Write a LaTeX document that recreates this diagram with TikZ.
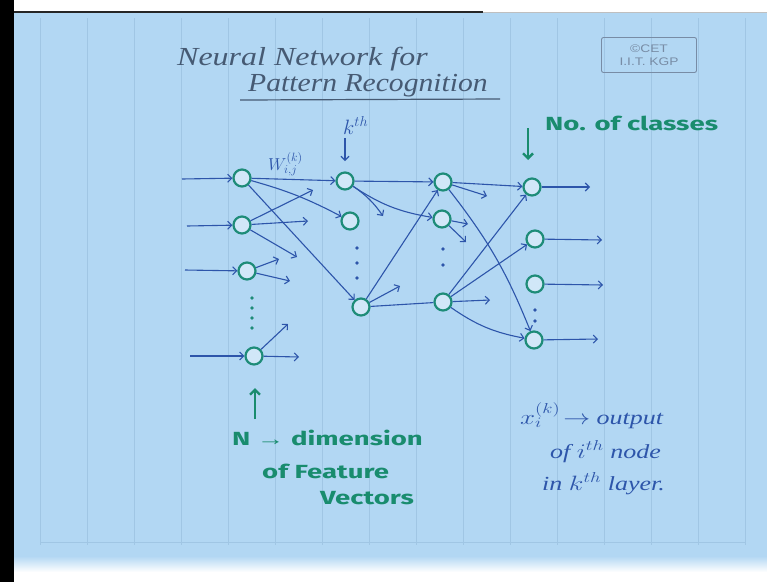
\documentclass[tikz,border=0pt]{standalone}
\usepackage{fontspec}
\setmainfont{Liberation Serif}
\newfontfamily\mk{Fira Sans}
\newfontfamily\lsans{Liberation Sans}
\usetikzlibrary{arrows.meta}
\definecolor{paper}{RGB}{178,215,243}
\definecolor{gridc}{RGB}{160,198,228}
\definecolor{ink}{RGB}{45,85,170}
\definecolor{titleink}{RGB}{70,90,115}
\definecolor{nodeink}{RGB}{30,140,120}
\definecolor{greenink}{RGB}{25,140,110}
\definecolor{stampc}{RGB}{120,140,165}
\newcommand{\hwb}[2]{\scalebox{#1}[1]{#2}}
\begin{document}
\begin{tikzpicture}[x=1pt,y=-1pt,
  neuron/.style={circle,draw=nodeink,line width=2.2pt,minimum size=17pt,inner sep=0pt,fill=paper!60!white},
  conn/.style={draw=ink,line width=1.1pt,-{Straight Barb[length=4pt,width=8pt]}},
  plainconn/.style={draw=ink,line width=1.1pt},
  gconn/.style={draw=greenink,line width=2.4pt,-{Straight Barb[length=5pt,width=10pt]}},
  dotmark/.style={circle,fill=#1,inner sep=0pt,minimum size=3.6pt},
  titletext/.style={text=titleink,font=\itshape\fontsize{26}{28}\selectfont,inner sep=0pt,anchor=base west},
  greentext/.style={text=greenink,font=\mk\bfseries\fontsize{19}{22}\selectfont,inner sep=0pt,anchor=base west},
  bluetext/.style={text=ink,font=\itshape\fontsize{20}{22}\selectfont,inner sep=0pt,anchor=base west},
  gridline/.style={draw=gridc,line width=0.7pt}
]
% ---------- paper and frame ----------
\useasboundingbox (0,0) rectangle (767,582);
\fill[white] (0,0) rectangle (767,582);
\fill[paper] (14,12) rectangle (767,558);
\shade[top color=paper, bottom color=white] (14,556) rectangle (767,572);
\fill[black] (0,0) rectangle (14,582);
\draw[black!85,line width=2pt] (14,12) -- (483,12);
\draw[gray!50,line width=1pt] (483,12) -- (767,12);
\foreach \gx in {40,87,...,745} \draw[gridline] (\gx,18) -- (\gx,545);
\draw[gridline] (40,542) -- (745,542);

% ---------- title ----------
\node[titletext] (t1) at (177,65) {\hwb{1.23}{Neural Network for}};
\node[titletext] (t2) at (248,91) {\hwb{1.14}{Pattern Recognition}};
\coordinate (u1) at (240,100);
\coordinate (u2) at (500,99);
\draw[titleink,line width=1.2pt] (u1) -- (u2);

\node[draw=stampc,rounded corners=2pt,line width=0.9pt,minimum width=95pt,minimum height=35pt,
      align=center,text=stampc,font=\lsans\fontsize{11}{13}\selectfont,inner sep=0pt] (stamp) at (649,55)
      {\hwb{1.25}{\textcopyright CET}\\\hwb{1.25}{I.I.T. KGP}};

% ---------- neurons ----------
\node[neuron] (i1) at (242,178) {};
\node[neuron] (i2) at (242,225) {};
\node[neuron] (i3) at (247,271) {};
\node[neuron] (i4) at (254,356) {};
\node[neuron] (h1) at (345,181) {};
\node[neuron] (h2) at (350,221) {};
\node[neuron] (h3) at (361,307) {};
\node[neuron] (g1) at (443,182) {};
\node[neuron] (g2) at (442,219) {};
\node[neuron] (g3) at (443,302) {};
\node[neuron] (o1) at (532,187) {};
\node[neuron] (o2) at (535,239) {};
\node[neuron] (o3) at (535,284) {};
\node[neuron] (o4) at (534,340) {};

% vertical dots
\node[dotmark=nodeink] (di1) at (252,298) {};
\node[dotmark=nodeink] (di2) at (252,308) {};
\node[dotmark=nodeink] (di3) at (252,318) {};
\node[dotmark=nodeink] (di4) at (252,328) {};
\node[dotmark=ink] (dh1) at (357,248) {};
\node[dotmark=ink] (dh2) at (357,263) {};
\node[dotmark=ink] (dh3) at (357,278) {};
\node[dotmark=ink] (dg1) at (443,249) {};
\node[dotmark=ink] (dg2) at (443,265) {};
\node[dotmark=ink] (do1) at (535,310) {};
\node[dotmark=ink] (do2) at (535,321) {};

% ---------- input arrows ----------
\coordinate (a1) at (182,179);
\coordinate (a2) at (187,226);
\coordinate (a3) at (185,270);
\coordinate (a4) at (190,356);
\draw[conn] (a1) -- (i1);
\draw[conn] (a2) -- (i2);
\draw[conn] (a3) -- (i3);
\draw[conn] (a4) -- (i4);

% ---------- input layer -> k-th layer ----------
\draw[conn] (i1) -- (h1);
\draw[conn] (i1) to[bend left=6] (h2);
\draw[conn] (i1) -- (h3);
\coordinate (s21) at (313,190);
\coordinate (s22) at (308,221);
\coordinate (s23) at (297,257);
\draw[conn] (i2) -- (s21);
\draw[conn] (i2) -- (s22);
\draw[conn] (i2) -- (s23);
\coordinate (s31) at (279,259);
\coordinate (s32) at (290,281);
\draw[conn] (i3) -- (s31);
\draw[conn] (i3) -- (s32);
\coordinate (s41) at (288,324);
\coordinate (s42) at (299,357);
\draw[conn] (i4) -- (s41);
\draw[conn] (i4) -- (s42);

% ---------- k-th layer -> next layer ----------
\draw[conn] (h1) -- (g1);
\draw[conn] (h1) to[bend right=12] (g2);
\coordinate (sh1) at (383,216);
\draw[conn] (h1) to[bend left=10] (sh1);
\draw[conn] (h3) -- (g1);
\coordinate (sh3) at (400,286);
\draw[conn] (h3) -- (sh3);
\draw[plainconn] (h3) -- (g3);

% ---------- next layer -> output ----------
\draw[conn] (g1) -- (o1);
\coordinate (sg1) at (487,196);
\draw[conn] (g1) -- (sg1);
\draw[conn] (g1) to[bend left=8] (o4);
\coordinate (sg21) at (468,224);
\coordinate (sg22) at (466,242);
\draw[conn] (g2) -- (sg21);
\draw[conn] (g2) -- (sg22);
\draw[conn] (g3) -- (o1);
\draw[conn] (g3) -- (o2);
\coordinate (sg3) at (490,300);
\draw[conn] (g3) -- (sg3);
\draw[conn] (g3) to[bend right=12] (o4);

% ---------- output arrows ----------
\coordinate (b1) at (590,187);
\coordinate (b2) at (602,240);
\coordinate (b3) at (603,285);
\coordinate (b4) at (598,339);
\draw[conn] (o1) -- (b1);
\draw[conn] (o2) -- (b2);
\draw[conn] (o3) -- (b3);
\draw[conn] (o4) -- (b4);

% ---------- labels ----------
\node[bluetext,font=\fontsize{17}{19}\selectfont] (wlab) at (268,170) {$W_{i,j}^{(k)}$};
\node[bluetext,font=\fontsize{22}{24}\selectfont] (klab) at (343,134) {$k^{th}$};
\coordinate (kA) at (345,138);
\coordinate (kB) at (345,161);
\draw[conn] (kA) -- (kB);

\node[greentext] (nclass) at (545,130) {\hwb{1.45}{No. of classes}};
\coordinate (ga) at (528,128);
\coordinate (gb) at (528,160);
\draw[gconn] (ga) -- (gb);

\coordinate (na) at (255,419);
\coordinate (nb) at (255,388);
\draw[gconn] (na) -- (nb);
\node[greentext] (nd1) at (232,445) {\hwb{1.45}{N {\lsans →} dimension}};
\node[greentext] (nd2) at (262,478) {\hwb{1.45}{of Feature}};
\node[greentext] (nd3) at (320,504) {\hwb{1.45}{Vectors}};

\node[bluetext] (x1) at (520,424) {\hwb{1.3}{$x_i^{(k)}\!\rightarrow$ output}};
\node[bluetext] (x2) at (550,458) {\hwb{1.3}{of $i^{th}$ node}};
\node[bluetext] (x3) at (542,490) {\hwb{1.3}{in $k^{th}$ layer.}};
\end{tikzpicture}
\end{document}
